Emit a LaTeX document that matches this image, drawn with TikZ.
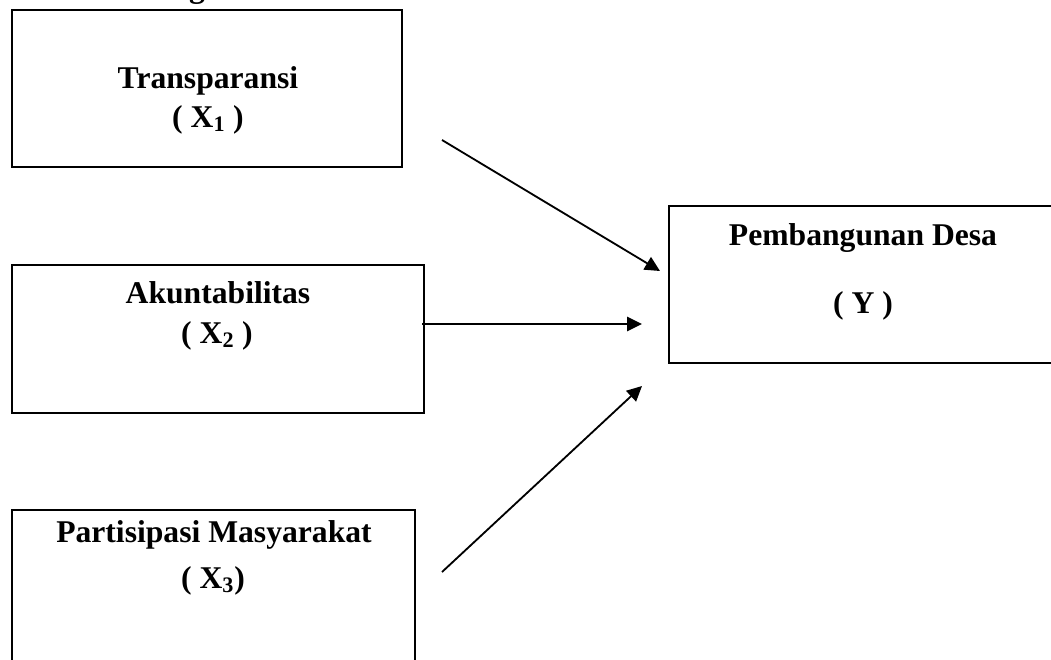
\documentclass[tikz,border=0pt]{standalone}
\usepackage{fontspec}
\setmainfont{Liberation Serif}
\usepackage{tikz}
\usetikzlibrary{arrows.meta,positioning,calc}

\begin{document}
\begin{tikzpicture}[x=0.025cm,y=-0.025cm,>={Triangle[length=0.375cm,width=0.36cm]},
  kotak/.style={draw,line width=1.4pt,inner sep=0pt},
  teks/.style={anchor=base,font=\fontsize{22.5}{26}\selectfont\bfseries,inner sep=0pt},
  panah/.style={->,line width=1.3pt}]
  \useasboundingbox (0,0) rectangle (1051,659);
  % potongan judul
  \node[teks] (judul) at (197,-3) {g};
  % kotak variabel
  \node[kotak,minimum width=9.75cm,minimum height=3.925cm] (x1) at (207,88.5) {};
  \node[kotak,minimum width=10.3cm,minimum height=3.7cm] (x2) at (218,339) {};
  \node[kotak,minimum width=10.075cm,minimum height=4.75cm] (x3) at (213.5,605) {};
  \node[kotak,minimum width=10.5cm,minimum height=3.925cm] (y) at (879,284.5) {};
  % label
  \node[teks] (t1) at (208,88) {Transparansi};
  \node[teks] (s1) at (208,127) {( X\textsubscript{1} )};
  \node[teks] (t2) at (218,303) {Akuntabilitas};
  \node[teks] (s2) at (217,343) {( X\textsubscript{2} )};
  \node[teks] (t3) at (214,542) {Partisipasi Masyarakat};
  \node[teks] (s3) at (213,588) {( X\textsubscript{3})};
  \node[teks] (ty) at (863,245) {Pembangunan Desa};
  \node[teks] (sy) at (863,313) {( Y )};
  % panah
  \coordinate (a1) at (442,140); \coordinate (b1) at (660,271);
  \coordinate (a2) at (422,324); \coordinate (b2) at (642,324);
  \coordinate (a3) at (442,572); \coordinate (b3) at (642,386);
  \draw[panah] (a1) -- (b1);
  \draw[panah] (a2) -- (b2);
  \draw[panah] (a3) -- (b3);
\end{tikzpicture}
\end{document}
